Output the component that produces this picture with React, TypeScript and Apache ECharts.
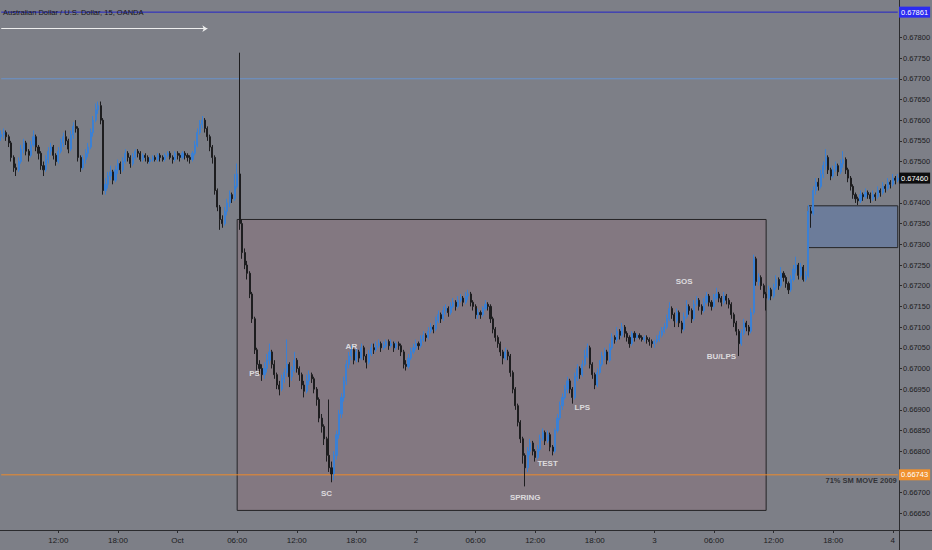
import { useEffect, useRef } from "react";
import * as echarts from "echarts";

// AUD/USD 15m candles, prices in pipettes (67460 = 0.67460), [open, close, low, high]
const sep30Candles = [
  [67560, 67565, 67550, 67575], [67565, 67570, 67555, 67580], [67570, 67560, 67550, 67575], [67560, 67545, 67535, 67565], [67545, 67510, 67500, 67550],
  [67510, 67485, 67475, 67515], [67485, 67480, 67465, 67495], [67480, 67500, 67475, 67510], [67500, 67530, 67495, 67540], [67530, 67545, 67520, 67555],
  [67545, 67525, 67515, 67550], [67525, 67515, 67500, 67530], [67515, 67540, 67510, 67550], [67540, 67560, 67535, 67575], [67560, 67535, 67525, 67565],
  [67535, 67520, 67505, 67540], [67520, 67490, 67480, 67525], [67490, 67480, 67465, 67500], [67480, 67505, 67475, 67515], [67505, 67525, 67495, 67535],
  [67525, 67535, 67515, 67545], [67535, 67515, 67505, 67540], [67515, 67500, 67490, 67520], [67500, 67525, 67495, 67535], [67525, 67545, 67520, 67555],
  [67545, 67560, 67535, 67570], [67560, 67550, 67540, 67575], [67550, 67530, 67520, 67555], [67530, 67565, 67525, 67575], [67565, 67585, 67555, 67595],
  [67585, 67580, 67570, 67600], [67580, 67510, 67500, 67585], [67510, 67485, 67475, 67515], [67485, 67505, 67480, 67515], [67505, 67520, 67495, 67530],
  [67520, 67535, 67510, 67545], [67535, 67570, 67530, 67580], [67570, 67600, 67560, 67610], [67600, 67625, 67595, 67640], [67625, 67635, 67615, 67645],
  [67635, 67600, 67590, 67645], [67600, 67430, 67420, 67605], [67430, 67445, 67420, 67460], [67445, 67465, 67435, 67475], [67465, 67475, 67455, 67490],
  [67475, 67455, 67445, 67480], [67455, 67480, 67450, 67490], [67480, 67495, 67470, 67505], [67495, 67480, 67470, 67500], [67480, 67500, 67475, 67510],
  [67500, 67520, 67495, 67530], [67520, 67510, 67500, 67525], [67510, 67495, 67485, 67515], [67495, 67510, 67490, 67520], [67510, 67525, 67505, 67530],
  [67525, 67520, 67510, 67530], [67520, 67505, 67500, 67525], [67505, 67515, 67500, 67520], [67515, 67510, 67500, 67520], [67510, 67500, 67495, 67515],
  [67500, 67505, 67495, 67510], [67505, 67510, 67500, 67515], [67510, 67505, 67500, 67515], [67505, 67515, 67500, 67520], [67515, 67510, 67500, 67520],
  [67510, 67505, 67500, 67515], [67505, 67515, 67500, 67520], [67515, 67520, 67510, 67525], [67520, 67510, 67505, 67525], [67510, 67505, 67495, 67515],
  [67505, 67520, 67500, 67525],
];

const oct1Candles = [
  [67520, 67515, 67505, 67525], [67515, 67510, 67500, 67520], [67510, 67520, 67505, 67525], [67520, 67515, 67505, 67525], [67515, 67510, 67500, 67520],
  [67510, 67505, 67495, 67515], [67505, 67520, 67500, 67525], [67520, 67540, 67515, 67550], [67540, 67570, 67535, 67580], [67570, 67590, 67565, 67600],
  [67590, 67600, 67580, 67610], [67600, 67580, 67570, 67605], [67580, 67560, 67550, 67585], [67560, 67535, 67525, 67565], [67535, 67510, 67495, 67540],
  [67510, 67430, 67420, 67515], [67430, 67390, 67380, 67435], [67390, 67360, 67335, 67395], [67360, 67350, 67340, 67370], [67350, 67380, 67345, 67390],
  [67380, 67400, 67370, 67410], [67400, 67420, 67390, 67430], [67420, 67410, 67400, 67425], [67410, 67440, 67405, 67470], [67440, 67470, 67435, 67495],
  [67470, 67350, 67335, 67763], [67350, 67280, 67265, 67360], [67280, 67250, 67240, 67290], [67250, 67230, 67215, 67260], [67230, 67180, 67170, 67235],
  [67180, 67120, 67110, 67185], [67120, 67045, 67035, 67125], [67045, 67010, 66995, 67050], [67010, 67000, 66985, 67020], [67000, 66985, 66970, 67010],
  [66985, 67000, 66975, 67015], [67000, 67020, 66990, 67035], [67020, 67040, 67010, 67060], [67040, 67010, 67000, 67045], [67010, 66985, 66975, 67020],
  [66985, 66960, 66950, 66990], [66960, 66950, 66935, 66970], [66950, 66975, 66945, 66985], [66975, 66990, 66965, 67000], [66990, 67010, 66980, 67070],
  [67010, 66980, 66955, 67015], [66980, 66995, 66970, 67005], [66995, 67020, 66990, 67040], [67020, 67000, 66990, 67025], [67000, 66985, 66970, 67005],
  [66985, 66960, 66950, 66990], [66960, 66945, 66930, 66970], [66945, 66970, 66940, 66985], [66970, 66985, 66960, 66995], [66985, 66975, 66965, 66990],
  [66975, 66950, 66940, 66980], [66950, 66925, 66910, 66955], [66925, 66880, 66870, 66930], [66880, 66860, 66845, 66890], [66860, 66830, 66815, 66865],
  [66830, 66790, 66775, 66835], [66790, 66760, 66750, 66925], [66760, 66745, 66725, 66775], [66745, 66790, 66730, 66800], [66790, 66840, 66780, 66850],
  [66840, 66890, 66830, 66900], [66890, 66930, 66880, 66940], [66930, 66970, 66920, 66980], [66970, 67010, 66960, 67020], [67010, 67030, 67000, 67040],
  [67030, 67045, 67020, 67055], [67045, 67020, 67010, 67050], [67020, 67040, 67015, 67050], [67040, 67025, 67015, 67045], [67025, 67050, 67020, 67060],
  [67050, 67030, 67020, 67055], [67030, 67015, 67000, 67035], [67015, 67035, 67010, 67045], [67035, 67050, 67030, 67060], [67050, 67045, 67035, 67060],
  [67045, 67055, 67040, 67065], [67055, 67060, 67050, 67070], [67060, 67050, 67040, 67065], [67050, 67055, 67045, 67065], [67055, 67065, 67050, 67070],
  [67065, 67055, 67045, 67070], [67055, 67060, 67050, 67070], [67060, 67050, 67040, 67065], [67050, 67060, 67045, 67065], [67060, 67055, 67045, 67065],
  [67055, 67040, 67030, 67060], [67040, 67010, 67000, 67045], [67010, 67005, 66995, 67020], [67005, 67025, 67000, 67035], [67025, 67040, 67020, 67050],
  [67040, 67050, 67035, 67060],
];

const oct2Candles = [
  [67050, 67060, 67045, 67070], [67060, 67055, 67045, 67065], [67055, 67070, 67050, 67080], [67070, 67080, 67065, 67090], [67080, 67075, 67065, 67085],
  [67075, 67090, 67070, 67100], [67090, 67100, 67085, 67110], [67100, 67095, 67085, 67105], [67095, 67115, 67090, 67125], [67115, 67130, 67110, 67140],
  [67130, 67120, 67110, 67135], [67120, 67140, 67115, 67150], [67140, 67145, 67130, 67155], [67145, 67135, 67125, 67150], [67135, 67150, 67130, 67160],
  [67150, 67160, 67145, 67170], [67160, 67150, 67140, 67165], [67150, 67165, 67145, 67175], [67165, 67170, 67160, 67180], [67170, 67160, 67150, 67175],
  [67160, 67175, 67155, 67185], [67175, 67180, 67165, 67190], [67180, 67160, 67150, 67185], [67160, 67150, 67140, 67165], [67150, 67130, 67120, 67155],
  [67130, 67135, 67120, 67145], [67135, 67130, 67120, 67140], [67130, 67145, 67125, 67150], [67145, 67155, 67140, 67165], [67155, 67150, 67140, 67160],
  [67150, 67120, 67110, 67155], [67120, 67095, 67085, 67125], [67095, 67075, 67065, 67100], [67075, 67060, 67050, 67080], [67060, 67040, 67030, 67065],
  [67040, 67025, 67010, 67045], [67025, 67040, 67020, 67050], [67040, 67030, 67020, 67045], [67030, 66990, 66980, 67035], [66990, 66950, 66940, 66995],
  [66950, 66910, 66900, 66955], [66910, 66870, 66860, 66915], [66870, 66830, 66820, 66875], [66830, 66790, 66770, 66835], [66790, 66760, 66715, 66795],
  [66760, 66800, 66750, 66810], [66800, 66820, 66790, 66830], [66820, 66800, 66790, 66825], [66800, 66785, 66775, 66805], [66785, 66805, 66780, 66815],
  [66805, 66830, 66800, 66840], [66830, 66845, 66825, 66855], [66845, 66825, 66815, 66850], [66825, 66840, 66820, 66850], [66840, 66810, 66800, 66845],
  [66810, 66800, 66790, 66815], [66800, 66850, 66795, 66855], [66850, 66880, 66845, 66890], [66880, 66910, 66875, 66920], [66910, 66930, 66900, 66940],
  [66930, 66950, 66925, 66960], [66950, 66970, 66940, 66980], [66970, 66950, 66940, 66975], [66950, 66930, 66915, 66955], [66930, 66980, 66925, 66990],
  [66980, 67000, 66970, 67010], [67000, 66985, 66975, 67005], [66985, 67010, 66980, 67020], [67010, 67030, 67005, 67045], [67030, 67050, 67025, 67060],
  [67050, 67010, 67000, 67055], [67010, 66985, 66975, 67015], [66985, 66960, 66950, 66990], [66960, 66990, 66955, 67000], [66990, 67010, 66985, 67020],
  [67010, 67030, 67005, 67040], [67030, 67040, 67020, 67050], [67040, 67020, 67010, 67045], [67020, 67050, 67015, 67060], [67050, 67075, 67045, 67085],
  [67075, 67070, 67060, 67080], [67070, 67090, 67065, 67100], [67090, 67080, 67070, 67095], [67080, 67100, 67075, 67110], [67100, 67085, 67075, 67105],
  [67085, 67075, 67065, 67090], [67075, 67060, 67050, 67080], [67060, 67085, 67055, 67090], [67085, 67075, 67065, 67090], [67075, 67080, 67070, 67085],
  [67080, 67075, 67070, 67085], [67075, 67070, 67065, 67080], [67070, 67075, 67065, 67080], [67075, 67070, 67060, 67080], [67070, 67065, 67055, 67075],
  [67065, 67060, 67050, 67070],
];

const oct3Candles = [
  [67060, 67065, 67050, 67070], [67065, 67070, 67060, 67080], [67070, 67080, 67065, 67090], [67080, 67090, 67075, 67100], [67090, 67100, 67085, 67110],
  [67100, 67120, 67095, 67130], [67120, 67145, 67115, 67160], [67145, 67130, 67120, 67150], [67130, 67115, 67100, 67135], [67115, 67135, 67110, 67145],
  [67135, 67110, 67100, 67140], [67110, 67095, 67085, 67115], [67095, 67125, 67090, 67135], [67125, 67150, 67120, 67165], [67150, 67140, 67130, 67155],
  [67140, 67120, 67110, 67145], [67120, 67155, 67115, 67165], [67155, 67165, 67150, 67175], [67165, 67150, 67140, 67170], [67150, 67140, 67130, 67155],
  [67140, 67160, 67135, 67170], [67160, 67175, 67155, 67185], [67175, 67160, 67150, 67180], [67160, 67150, 67140, 67165], [67150, 67170, 67145, 67180],
  [67170, 67180, 67165, 67195], [67180, 67170, 67160, 67185], [67170, 67160, 67150, 67175], [67160, 67175, 67155, 67185], [67175, 67165, 67155, 67180],
  [67165, 67155, 67145, 67170], [67155, 67130, 67120, 67160], [67130, 67110, 67100, 67135], [67110, 67090, 67080, 67115], [67090, 67060, 67030, 67095],
  [67060, 67085, 67055, 67095], [67085, 67110, 67080, 67120], [67110, 67100, 67090, 67115], [67100, 67090, 67080, 67105], [67090, 67135, 67085, 67145],
  [67135, 67265, 67130, 67275], [67265, 67210, 67200, 67270], [67210, 67220, 67200, 67230], [67220, 67200, 67190, 67225], [67200, 67180, 67170, 67205],
  [67180, 67170, 67140, 67185], [67170, 67190, 67165, 67200], [67190, 67175, 67165, 67195], [67175, 67195, 67170, 67205], [67195, 67215, 67190, 67225],
  [67215, 67200, 67190, 67220], [67200, 67230, 67195, 67245], [67230, 67220, 67210, 67235], [67220, 67205, 67195, 67225], [67205, 67190, 67180, 67210],
  [67190, 67215, 67185, 67225], [67215, 67240, 67210, 67250], [67240, 67250, 67230, 67270], [67250, 67225, 67215, 67255], [67225, 67245, 67220, 67255],
  [67245, 67215, 67210, 67250], [67215, 67225, 67210, 67235], [67225, 67380, 67220, 67395], [67380, 67375, 67340, 67390], [67375, 67430, 67370, 67440],
  [67430, 67450, 67420, 67460], [67450, 67440, 67430, 67460], [67440, 67470, 67435, 67480], [67470, 67490, 67460, 67500], [67490, 67510, 67480, 67530],
  [67510, 67480, 67470, 67515], [67480, 67465, 67455, 67485], [67465, 67480, 67460, 67490], [67480, 67490, 67475, 67500], [67490, 67475, 67465, 67495],
  [67475, 67495, 67470, 67505], [67495, 67505, 67485, 67525], [67505, 67480, 67470, 67510], [67480, 67460, 67450, 67485], [67460, 67440, 67430, 67465],
  [67440, 67420, 67410, 67445], [67420, 67410, 67400, 67425], [67410, 67405, 67395, 67415], [67405, 67420, 67400, 67430], [67420, 67415, 67405, 67425],
  [67415, 67425, 67410, 67435], [67425, 67420, 67410, 67430], [67420, 67410, 67400, 67425], [67410, 67420, 67405, 67430], [67420, 67415, 67405, 67425],
  [67415, 67430, 67410, 67440], [67430, 67425, 67415, 67435], [67425, 67440, 67420, 67450], [67440, 67435, 67425, 67445], [67435, 67450, 67430, 67460],
  [67450, 67445, 67435, 67455],
];

const oct4Candles = [
  [67445, 67460, 67440, 67470], [67460, 67455, 67445, 67465], [67455, 67460, 67450, 67470],
];

// first bar: 2019-09-30 06:15 (chart time), 15 minute bars
const startTime = Date.UTC(2019, 8, 30, 6, 15);
const barMinutes = 15;

// [bar index, price, text]
const wyckoffLabels: [number, number, string][] = [
  [102, 66988, "PS"],
  [131, 66698, "SC"],
  [141, 67053, "AR"],
  [211, 66688, "SPRING"],
  [220, 66770, "TEST"],
  [234, 66905, "LPS"],
  [275, 67210, "SOS"],
  [290, 67029, "BU/LPS"],
];

const resistanceLevel = 67861;
const blueLevel = 67700;
const smMoveLevel = 66743;
const smMoveNote: [number, number, string] = [361, 66743, "71% SM MOVE 2009"];
const lastPrice = 67460;
const arrowLevel = 67821;
const arrowBars = [0, 83];
const rangeBox = { from: 95, to: 308, top: 67360, bottom: 66657 };
const orderBlock = { from: 325, to: 361, top: 67393, bottom: 67292 };

const BG = "#7d7f87";
const TEXT = "#1c1c1e";
const UP = "#3b80d4";
const DOWN = "#1d1d1f";
const FONT = '"Liberation Sans", sans-serif';

const pad = (n: number) => String(n).padStart(2, "0");
const months = ["Jan", "Feb", "Mar", "Apr", "May", "Jun", "Jul", "Aug", "Sep", "Oct", "Nov", "Dec"];

export default function App() {
  const chartRef = useRef<HTMLDivElement>(null);

  useEffect(() => {
    if (!chartRef.current) return;
    document.body.style.margin = "0";
    document.body.style.background = BG;

    const chart = echarts.init(chartRef.current, null, { renderer: "svg" });

    const candles = [...sep30Candles, ...oct1Candles, ...oct2Candles, ...oct3Candles, ...oct4Candles];

    const categories = candles.map((_, i) => {
      const d = new Date(startTime + i * barMinutes * 60000);
      return `${d.getUTCMonth()}-${d.getUTCDate()} ${pad(d.getUTCHours())}:${pad(d.getUTCMinutes())}`;
    });
    const firstCat = categories[0];
    const lastCat = categories[categories.length - 1];

    const isTick = (_: number, value: string) => {
      const t = value.split(" ")[1];
      const [h, m] = t.split(":").map(Number);
      return m === 0 && h % 6 === 0;
    };

    // axis labels hidden under a price tag, like the platform does
    const tagLevels = [resistanceLevel, smMoveLevel, lastPrice];

    // horizontal level drawn as a plain two-point line through the axes
    const levelLine = (value: number, color: string) => ({
      type: "line",
      silent: true,
      symbol: "none",
      z: 3,
      data: [
        [firstCat, value],
        [lastCat, value],
      ],
      lineStyle: { color, width: 1, type: "solid" },
      itemStyle: { color },
    });

    // price tag on the right axis (markLine label only, zero-width line)
    const priceTag = (value: number, bg: string) => ({
      type: "line",
      data: [],
      silent: true,
      z: 12,
      markLine: {
        silent: true,
        symbol: "none",
        animation: false,
        lineStyle: { color: "rgba(0,0,0,0)", width: 0, type: "solid", opacity: 1 },
        label: {
          show: true,
          position: "end",
          distance: 0,
          opacity: 1,
          formatter: (value / 100000).toFixed(5),
          color: "#ffffff",
          backgroundColor: bg,
          padding: [2, 2, 1, 2],
          fontSize: 7.5,
          fontFamily: FONT,
        },
        data: [{ yAxis: value }],
      },
    });

    const option = {
      animation: false,
      backgroundColor: BG,
      textStyle: { fontFamily: FONT },
      grid: { left: 0, right: 33, top: -4, height: 538, outerBoundsMode: "none", containLabel: false },
      xAxis: {
        type: "category",
        data: categories,
        boundaryGap: true,
        offset: -4,
        axisLine: { lineStyle: { color: "#2b2b2e", width: 1 } },
        axisTick: { show: true, alignWithLabel: true, interval: isTick, length: 3, lineStyle: { color: "#2b2b2e" } },
        axisLabel: {
          interval: isTick,
          color: TEXT,
          fontSize: 8,
          margin: 6,
          formatter: (value: string) => {
            const [md, t] = value.split(" ");
            if (t !== "00:00") return t;
            const [mo, day] = md.split("-").map(Number);
            return day === 1 ? months[mo] : String(day);
          },
        },
        splitLine: { show: false },
      },
      yAxis: {
        type: "value",
        position: "right",
        min: 66600,
        max: 67900,
        interval: 50,
        axisLine: { show: true, lineStyle: { color: "#2b2b2e" } },
        axisTick: { show: true, length: 3, lineStyle: { color: "#2b2b2e" } },
        splitLine: { show: false },
        axisLabel: {
          showMinLabel: false,
          showMaxLabel: false,
          color: TEXT,
          fontSize: 7.5,
          margin: 4,
          formatter: (v: number) =>
            tagLevels.some((t) => Math.abs(t - v) < 15) ? "" : (v / 100000).toFixed(5),
        },
      },
      series: [
        {
          type: "candlestick",
          data: candles,
          barWidth: 1.6,
          z: 4,
          itemStyle: { color: UP, color0: DOWN, borderColor: UP, borderColor0: DOWN, borderWidth: 1 },
          markArea: {
            silent: true,
            data: [
              [
                {
                  xAxis: categories[rangeBox.from],
                  yAxis: rangeBox.top,
                  itemStyle: { color: "rgba(150, 100, 110, 0.25)", borderColor: "#242426", borderWidth: 1 },
                },
                { xAxis: categories[rangeBox.to], yAxis: rangeBox.bottom },
              ],
              [
                {
                  xAxis: categories[orderBlock.from],
                  yAxis: orderBlock.top,
                  itemStyle: { color: "rgba(70, 120, 200, 0.3)", borderColor: "#242426", borderWidth: 1 },
                },
                { xAxis: categories[orderBlock.to], yAxis: orderBlock.bottom },
              ],
            ],
          },
        },
        levelLine(blueLevel, "#6a92cc"),
        levelLine(resistanceLevel, "#2424c8"),
        levelLine(smMoveLevel, "#ec8a2c"),
        priceTag(resistanceLevel, "#2b2bf2"),
        priceTag(smMoveLevel, "#f0912e"),
        priceTag(lastPrice, "#0d0d0f"),
        {
          type: "line",
          data: [],
          silent: true,
          markLine: {
            silent: true,
            animation: false,
            symbol: ["none", "arrow"],
            symbolSize: 5,
            lineStyle: { color: "#eeeeee", width: 1, type: "solid" },
            label: { show: false },
            data: [
              [
                { coord: [categories[arrowBars[0]], arrowLevel] },
                { coord: [categories[arrowBars[1]], arrowLevel] },
              ],
            ],
          },
        },
        {
          type: "scatter",
          silent: true,
          symbolSize: 0,
          z: 10,
          data: wyckoffLabels.map(([i, p, t]) => ({ value: [i, p], name: t })),
          label: {
            show: true,
            position: "inside",
            formatter: (p: any) => p.name,
            color: "#f4f4f6",
            fontWeight: "bold",
            fontSize: 8,
            fontFamily: FONT,
          },
        },
        {
          type: "scatter",
          silent: true,
          symbolSize: 0,
          z: 10,
          data: [{ value: [smMoveNote[0], smMoveNote[1]], name: smMoveNote[2] }],
          label: {
            show: true,
            position: "left",
            distance: 1,
            offset: [0, 6],
            formatter: (p: any) => p.name,
            color: TEXT,
            fontWeight: "bold",
            fontSize: 7.5,
            fontFamily: FONT,
          },
        },
      ],
      graphic: [
        {
          type: "text",
          x: 3,
          y: 8,
          z: 20,
          style: {
            text: "Australian Dollar / U.S. Dollar, 15, OANDA",
            fill: "#141416",
            fontSize: 7.5,
            fontFamily: FONT,
          },
        },
        { type: "line", shape: { x1: 899.5, y1: 530, x2: 899.5, y2: 550 }, style: { stroke: "#2b2b2e", lineWidth: 1 } },
        { type: "line", shape: { x1: 899, y1: 530.5, x2: 932, y2: 530.5 }, style: { stroke: "#2b2b2e", lineWidth: 1 } },
      ],
    };

    chart.setOption(option as any);

    return () => {
      chart.dispose();
    };
  }, []);

  return <div ref={chartRef} style={{ width: 932, height: 550 }} />;
}
